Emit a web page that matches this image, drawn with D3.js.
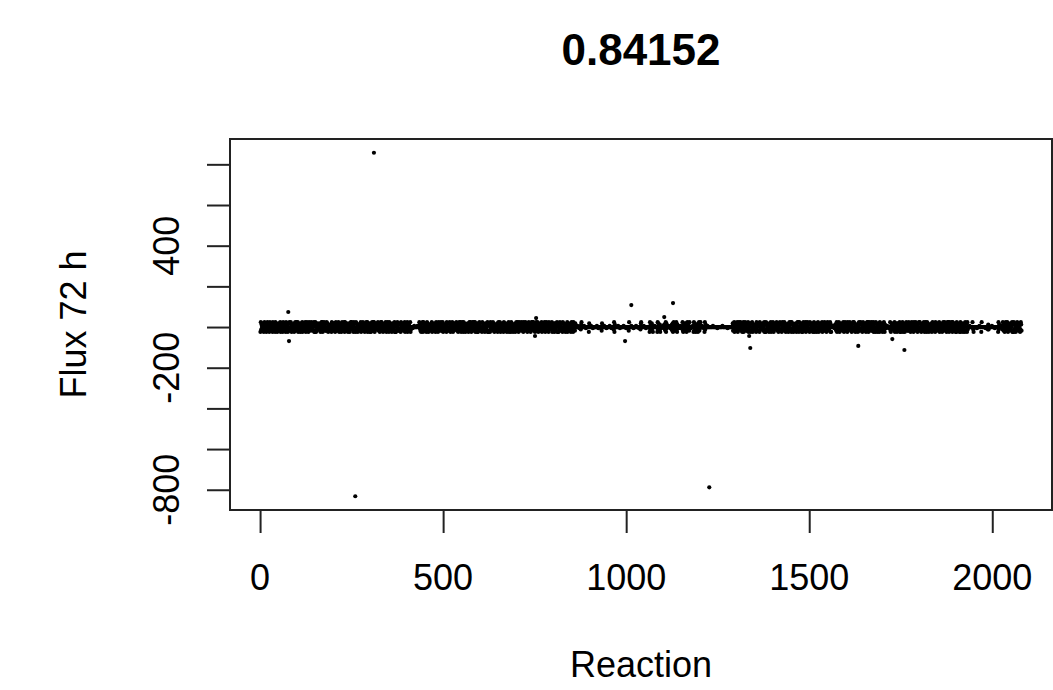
<!DOCTYPE html>
<html>
<head>
<meta charset="utf-8">
<script src="https://cdn.jsdelivr.net/npm/d3@7"></script>
<style>
  body { margin: 0; background: #fff; }
  text { font-family: "Liberation Sans", Arial, Helvetica, sans-serif; fill: #000; }
</style>
</head>
<body>
<div id="chart"></div>
<script>

var title = "0.84152";
var xLabel = "Reaction";
var yLabel = "Flux 72 h";

var xTicks = [0, 500, 1000, 1500, 2000];
var yTicks = [-800, -600, -400, -200, 0, 200, 400, 600, 800];
var yTickLabels = [400, -200, -800];   // R drops the labels that would overlap

// reactions far off the main band
var outlierReaction = [311, 260, 1227, 77, 79, 1014, 1128, 1104, 997, 754, 751, 1336, 1339, 1634, 1727, 1760];
var outlierFlux = [857, -832, -788, 74, -69, 108, 118, 49, -69, 44, -44, -44, -103, -93, -59, -113];

// main band, one code per reaction in order (reaction 1 first): flux = (code - 5) * 6
var fluxCodes = [
  "1937528641", "3972581649", "3728159463", "7281954637", "1928461537",
  "8264917352", "5193846271", "9472615839", "2859317464", "6318592749",
  "4791365281", "7532918465", "2694183957", "8159374629", "3846259171",
  "9215748363", "6482173959", "1573968242", "5928417636", "4367192858",
  "3728159463", "2859317464", "8159374629", "1937528641", "6482173959",
  "4367192858", "1928461537", "7532918465", "9472615839", "4791365281",
  "6318592749", "9215748363", "3972581649", "5928417636", "2694183957",
  "5193846271", "3846259171", "1573968242", "7281954637", "8264917352",
  "391857264913",
  "5555455565", "5555555655", "55",
  "9472615839", "1937528641", "5928417636", "7532918465", "3728159463",
  "8159374629", "8264917352", "4367192858", "2859317464", "9215748363",
  "3972581649", "2694183957", "1928461537", "6482173959", "6318592749",
  "4791365281", "1573968242", "5193846271", "3846259171", "7281954637",
  "5928417636", "3728159463", "9215748363", "1937528641", "7532918465",
  "1928461537", "6318592749", "8159374629", "4367192858", "9472615839",
  "6482173959", "3972581649", "2859317464", "8264917352", "2694183957",
  "7281954637", "4791365281", "3846259171", "1573968242", "5193846271",
  "7532918465", "3728159463", "19375286",
  "5555655554", "5553795555", "5565555455", "5555518555", "5655554555",
  "5555555655", "5455555555", "2855555655", "5554555555", "5565555455",
  "5553917555", "5555565555", "4555555555", "6555555455", "5555295555",
  "5655555455", "5555655555", "5545553895", "5555565555", "5455555555",
  "5",
  "1937528641", "5555655555", "5193846271", "5545555655", "7532918465",
  "5565555455", "3728159463", "2859317464", "5555465555", "9215748363",
  "8159374629", "5554555565", "1928461537", "6318592749", "5556555545",
  "19375555655",
  "5555555555", "5565555555", "5555455555", "5555555565", "5555555555",
  "5545555555", "555555",
  "8264917352", "2694183957", "3972581649", "1573968242", "4791365281",
  "2859317464", "4367192858", "7281954637", "3846259171", "1937528641",
  "7532918465", "9215748363", "9472615839", "3728159463", "5928417636",
  "6318592749", "1928461537", "6482173959", "5193846271", "8159374629",
  "1573968242", "1937528641", "4791365281", "2859317464", "8264917352",
  "3972581649", "3846259171", "5555655545", "7532918465", "9215748363",
  "2694183957", "7281954637", "9472615839", "5928417636", "6318592749",
  "3728159463", "6482173959", "8159374629", "8264917352", "1928461537",
  "5193846271", "2859317464", "5565555455", "9215748363", "4791365281",
  "3846259171", "7532918465", "1573968242", "3972581649", "4367192858",
  "9472615839", "5928417636", "2694183957", "1928461537", "3728159463",
  "7281954637", "8264917352", "6318592749", "6482173959", "8159374629",
  "1937528641", "5193846271", "4791365281", "4367192858193",
  "5555655555", "5595315555", "5555455555", "5655551955", "5555555545",
  "5555373555", "5555565555", "5554555555", "5519375555", "5565",
  "3972581649", "2859317464", "3846259171", "1928461537", "9375286413972"
];

(function(){

  var width = 1053,
      height = 690;

  var plot = {left: 230, right: 1052, top: 139, bottom: 510};

  var band = fluxCodes.join("").split("").map(function(c, i){
    return {x: i + 1, y: (+c - 5) * 6};
  });
  var outliers = outlierReaction.map(function(r, i){
    return {x: r, y: outlierFlux[i]};
  });
  var points = band.concat(outliers);

  // R style axis range: data range widened by 4% on each side
  function padded(ext){
    var p = (ext[1] - ext[0]) * 0.04;
    return [ext[0] - p, ext[1] + p];
  }

  var x = d3.scaleLinear()
      .domain(padded(d3.extent(points, function(d){ return d.x; })))
      .range([plot.left, plot.right]);

  var y = d3.scaleLinear()
      .domain(padded(d3.extent(points, function(d){ return d.y; })))
      .range([plot.bottom, plot.top]);

  var svg = d3.select("#chart").append("svg")
      .attr("width", width)
      .attr("height", height);

  svg.append("g")
      .selectAll("circle")
      .data(points)
    .enter().append("circle")
      .attr("cx", function(d){ return x(d.x); })
      .attr("cy", function(d){ return y(d.y); })
      .attr("r", 2.1)
      .attr("fill", "#000");

  svg.append("rect")
      .attr("x", plot.left)
      .attr("y", plot.top)
      .attr("width", plot.right - plot.left)
      .attr("height", plot.bottom - plot.top)
      .attr("fill", "none")
      .attr("stroke", "#222")
      .attr("stroke-width", 2);

  var xAxis = d3.axisBottom(x)
    .tickValues(xTicks)
    .tickSize(23)
    .tickPadding(0)
    .tickFormat("");

  var gx = svg.append("g")
      .attr("transform", "translate(0," + plot.bottom + ")")
      .call(xAxis);
  gx.select(".domain").remove();
  gx.selectAll("line").attr("stroke", "#222").attr("stroke-width", 2);

  var yAxis = d3.axisLeft(y)
    .tickValues(yTicks)
    .tickSize(23)
    .tickFormat("");

  var gy = svg.append("g")
      .attr("transform", "translate(" + plot.left + ",0)")
      .call(yAxis);
  gy.select(".domain").remove();
  gy.selectAll("line").attr("stroke", "#222").attr("stroke-width", 2);

  svg.append("g")
      .selectAll("text")
      .data(xTicks)
    .enter().append("text")
      .attr("x", function(d){ return x(d); })
      .attr("y", 590)
      .attr("text-anchor", "middle")
      .attr("font-size", 36)
      .text(function(d){ return d; });

  svg.append("g")
      .selectAll("text")
      .data(yTickLabels)
    .enter().append("text")
      .attr("transform", function(d){ return "translate(179," + y(d) + ") rotate(-90)"; })
      .attr("text-anchor", "middle")
      .attr("font-size", 36)
      .text(function(d){ return d; });

  svg.append("text")
      .attr("x", (plot.left + plot.right) / 2)
      .attr("y", 65)
      .attr("text-anchor", "middle")
      .attr("font-size", 44)
      .attr("font-weight", "bold")
      .text(title);

  svg.append("text")
      .attr("x", (plot.left + plot.right) / 2)
      .attr("y", 677)
      .attr("text-anchor", "middle")
      .attr("font-size", 36)
      .text(xLabel);

  svg.append("text")
      .attr("transform", "translate(86," + (plot.top + plot.bottom) / 2 + ") rotate(-90)")
      .attr("text-anchor", "middle")
      .attr("font-size", 36)
      .text(yLabel);

})();
</script>
</body>
</html>
